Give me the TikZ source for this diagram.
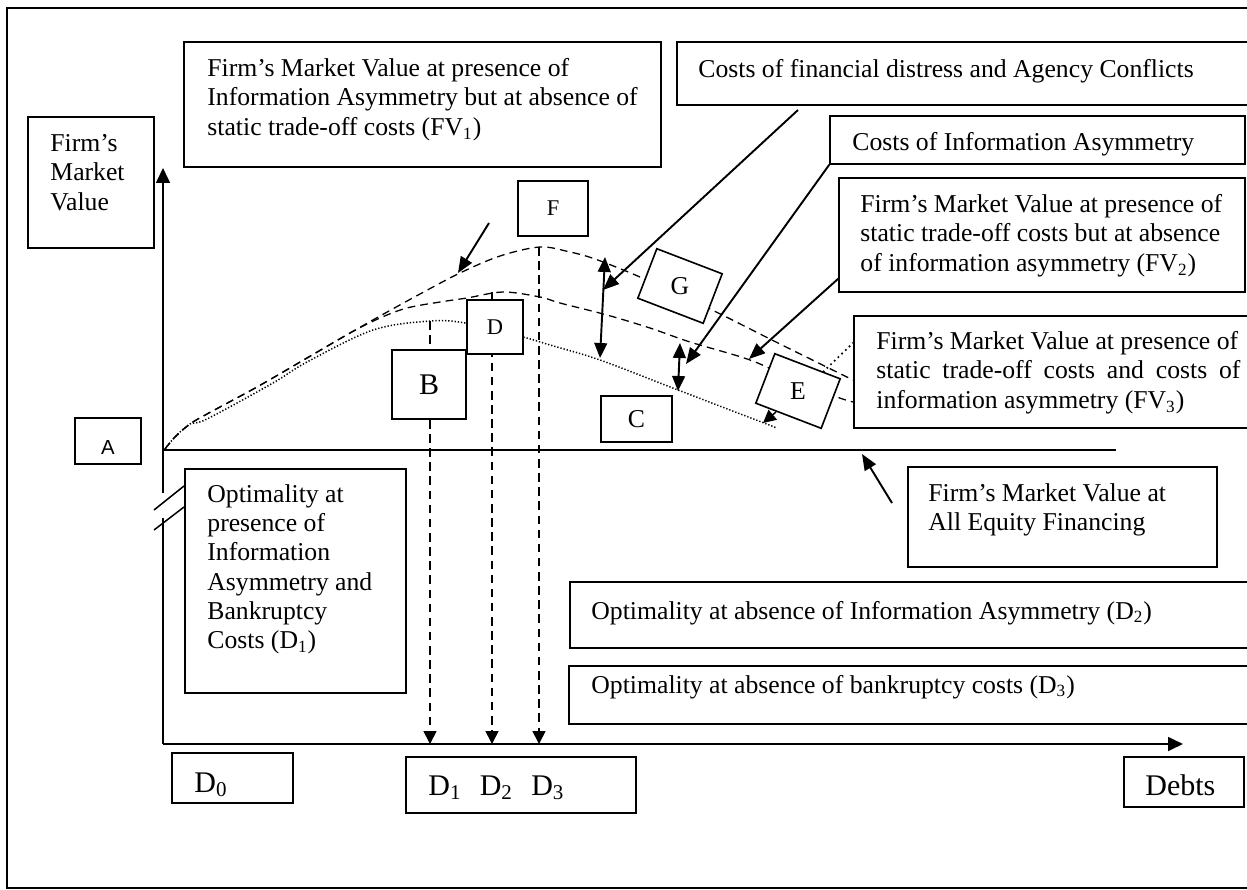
\documentclass[tikz,border=0pt]{standalone}
\usepackage{fontspec}
\setmainfont{Liberation Serif}
\newfontfamily\sansA{Liberation Sans}
\usetikzlibrary{arrows.meta,fit}
\begin{document}
\begin{tikzpicture}[x=0.467pt,y=-0.467pt,
  box/.style={draw, line width=0.75pt, fill=white, inner sep=0pt},
  rbox/.style={draw, line width=0.75pt, fill=white, inner sep=0pt, minimum width=70*0.467pt, minimum height=53*0.467pt},
  txt/.style={inner sep=0pt, align=left, font=\fontsize{12}{13.7}\selectfont},
  big/.style={inner sep=0pt, font=\fontsize{14}{16}\selectfont},
  letter/.style={inner sep=0pt, font=\fontsize{12}{14}\selectfont},
  small/.style={inner sep=0pt, font=\fontsize{10.5}{12}\selectfont},
  axis/.style={line width=0.9pt, -{Triangle[length=7pt,width=6.5pt]}},
  pointer/.style={line width=0.9pt, -{Triangle[length=7.5pt,width=6pt]}},
  twohead/.style={line width=0.9pt, {Triangle[length=7pt,width=6pt]}-{Triangle[length=7pt,width=6pt]}},
  drop/.style={line width=0.8pt, dash pattern=on 4pt off 2.6pt, -{Triangle[length=6pt,width=6pt]}},
  curveA/.style={line width=0.6pt, dash pattern=on 3.6pt off 2.4pt},
  curveB/.style={line width=0.7pt, dash pattern=on 0.6pt off 0.9pt}
]
\useasboundingbox (0,0) rectangle (1247,889);
\clip (0,0) rectangle (1247,889);
% outer frame
\draw[line width=0.7pt] (7,8) rectangle (1265,888);

% ---- curves ----
\draw[curveA] plot[smooth, tension=0.55] coordinates {(165,449) (175,437) (190,424) (207,414) (257,387) (307,358) (350,333) (380,316) (420,294) (460,273) (500,256) (540,247) (570,252) (595,259) (640,277) (708,308) (780,344) (853,380)};
\draw[curveA] plot[smooth, tension=0.55] coordinates {(165,449) (175,437) (190,424) (207,414) (257,387) (307,358) (350,333) (380,318) (407,308) (440,302) (467,298) (503,292) (540,297) (560,303) (607,315) (650,328) (690,342) (750,360) (795,380) (837,397) (853,402)};
\draw[curveB] plot[smooth, tension=0.55] coordinates {(165,449) (175,437) (190,424) (207,419) (273,383) (307,362) (373,330) (430,321) (465,323) (523,337) (550,345) (600,360) (678,390) (777,428)};

% ---- axes ----
\coordinate (o) at (163,744);
\coordinate (ytop) at (163,168);
\coordinate (xend) at (1183,744);
\draw[axis] (163,493) -- (ytop);
\draw[line width=0.9pt] (163,518) -- (o);
\draw[axis] (o) -- (xend);
\draw[line width=0.7pt] (154,510) -- (184,486);
\draw[line width=0.7pt] (154,530) -- (184,507);
% all equity line
\coordinate (eq0) at (163,450);
\coordinate (eq1) at (1116,450);
\draw[line width=0.8pt] (eq0) -- (eq1);

% ---- dashed drops ----
\coordinate (p1) at (430,321);
\coordinate (p2) at (492,292);
\coordinate (p3) at (539,247);
\draw[drop] (p1) -- (p1 |- o);
\draw[drop] (p2) -- (p2 |- o);
\draw[drop] (p3) -- (p3 |- o);

% ---- boxes ----
\node[box, fit={(184,42) (661,167)}] (fv1) {};
\node[txt, anchor=north west] (fv1t) at (207,58) {Firm’s Market Value at presence of\\Information Asymmetry but at absence of\\static trade-off costs (FV\textsubscript{1})};

\node[box, fit={(28,117) (154,248)}] (ylab) {};
\node[txt, anchor=north west] (ylabt) at (50,134) {Firm’s\\Market\\Value};

\node[box, fit={(677,42) (1265,105)}] (dist) {};
\node[txt, anchor=base west] (distt) at (698,77) {Costs of financial distress and Agency Conflicts};

\node[box, fit={(830,116) (1245,164)}] (cia) {};
\node[txt, anchor=base west] (ciat) at (852,150) {Costs of Information Asymmetry};

\node[box, fit={(839,178) (1245,292)}] (fv2) {};
\node[txt, anchor=north west] (fv2t) at (860,194) {Firm’s Market Value at presence of\\static trade-off costs but at absence\\of information asymmetry (FV\textsubscript{2})};

\node[box, fit={(854,316) (1265,428)}] (fv3) {};
\node[txt, anchor=north west] (fv3t) at (876,331) {Firm’s Market Value at presence of\\\makebox[170pt][s]{static trade-off costs and costs of}\\information asymmetry (FV\textsubscript{3})};

\node[box, fit={(518,181) (588,236)}] (fb) {};
\node[small] (ft) at (fb.center) {F};
\node[box, fit={(467,300) (523,354)}] (db) {};
\node[small] (dt) at (db.center) {D};
\node[box, fit={(392,350) (466,419)}] (bb) {};
\node[big] (bt) at (bb.center) {B};
\node[box, fit={(601,396) (672,442)}] (cb) {};
\node[letter] (ct) at (cb.center) {C};
\node[box, fit={(75,418) (141,464)}] (ab) {};
\node[inner sep=0pt, font=\sansA\fontsize{9.5}{10}\selectfont] (at) at (108,447) {A};

\node[rbox, rotate=-21] (gb) at (680,286) {};
\node[letter] (gt) at (gb.center) {G};
\node[rbox, rotate=-21] (eb) at (798,391) {};
\node[letter] (et) at (eb.center) {E};

\node[box, fit={(185,469) (406,693)}] (opt1) {};
\node[txt, anchor=north west] (opt1t) at (207,484) {Optimality at\\presence of\\Information\\Asymmetry and\\Bankruptcy\\Costs (D\textsubscript{1})};

\node[box, fit={(908,467) (1217,567)}] (alleq) {};
\node[txt, anchor=north west] (alleqt) at (928,483) {Firm’s Market Value at\\All Equity Financing};

\node[box, fit={(570,582) (1265,648)}] (opt2) {};
\node[txt, anchor=base west] (opt2t) at (591,619) {Optimality at absence of Information Asymmetry (D\textsubscript{2})};

\node[box, fit={(569,666) (1265,724)}] (opt3) {};
\node[txt, anchor=base west] (opt3t) at (591,693) {Optimality at absence of bankruptcy costs (D\textsubscript{3})};

\node[box, fit={(172,753) (293,803)}] (d0) {};
\node[big, anchor=base west] (d0t) at (194,792) {D\textsubscript{0}};

\node[box, fit={(406,757) (636,813)}] (ds) {};
\node[big, anchor=base west] (dst) at (428,795) {D\textsubscript{1}\hspace{8.5pt}D\textsubscript{2}\hspace{8.5pt}D\textsubscript{3}};

\node[box, fit={(1124,757) (1244,807)}] (debts) {};
\node[big, anchor=base west] (debtst) at (1145,795) {Debts};

% ---- pointers ----
\coordinate (a1s) at (489,223);
\coordinate (a1e) at (458,273);
\draw[pointer] (a1s) -- (a1e);

\coordinate (a2s) at (798,110);
\coordinate (a2e) at (603,290);
\draw[pointer] (a2s) -- (a2e);

\coordinate (c1t) at (605,257);
\coordinate (c1b) at (600,358);
\draw[twohead] (c1t) -- (c1b);

\coordinate (a3e) at (686,364);
\draw[pointer] (cia.south west) -- (a3e);

\coordinate (c2t) at (680,343);
\coordinate (c2b) at (678,391);
\draw[twohead] (c2t) -- (c2b);

\coordinate (a4s) at (839,278);
\coordinate (a4e) at (749,359);
\draw[pointer] (a4s) -- (a4e);

\coordinate (a5s) at (776,412);
\coordinate (a5e) at (763,423);
\draw[line width=0.7pt, -{Triangle[length=6pt,width=6pt]}] (a5s) -- (a5e);

\coordinate (lds) at (823,372);
\coordinate (lde) at (854,342);
\draw[line width=0.8pt, dash pattern=on 0.8pt off 1.6pt] (lds) -- (lde);

\coordinate (a6s) at (892,503);
\coordinate (a6e) at (862,454);
\draw[pointer] (a6s) -- (a6e);
\end{tikzpicture}
\end{document}
